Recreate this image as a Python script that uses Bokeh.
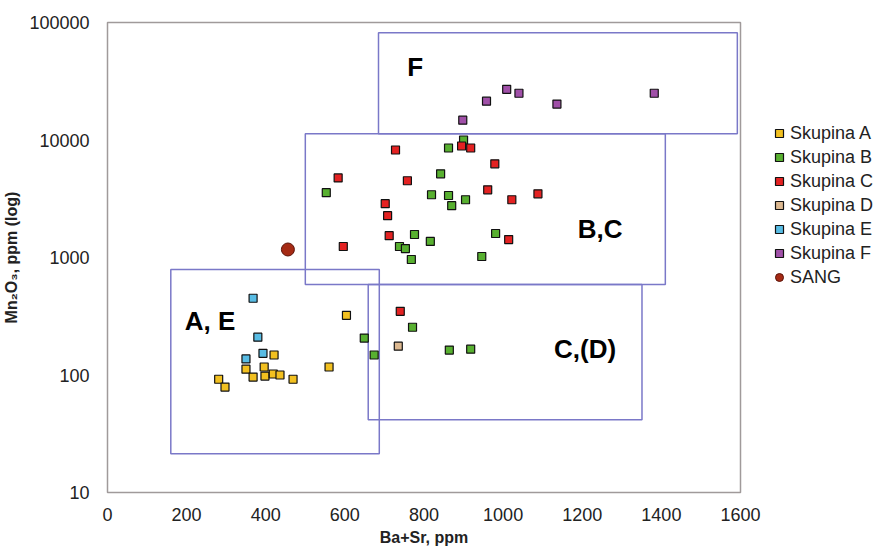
from bokeh.plotting import figure
from bokeh.models import (FixedTicker, NumeralTickFormatter, Legend, LegendItem, Range1d)
from bokeh.embed import file_html
from bokeh.resources import INLINE

# ---- data ----
a_x = [281, 297, 350, 368, 396, 398, 419, 421, 436, 469, 560, 604]
a_y = [92, 79, 112, 96, 117, 98, 102, 148, 100, 92, 117, 322]

b_x = [553, 649, 674, 738, 753, 768, 771, 776, 816, 819, 842, 862, 862, 864, 870, 900, 905, 918, 946, 981]
b_y = [3560, 206, 148, 1240, 1190, 962, 255, 1570, 1370, 3420, 5150, 8550, 3370, 163, 2760, 10000, 3100, 166, 1020, 1600]

c_x = [583, 596, 702, 708, 712, 728, 740, 758, 895, 918, 961, 979, 1014, 1022, 1088]
c_y = [4760, 1240, 2870, 2270, 1535, 8220, 348, 4500, 8890, 8550, 3770, 6270, 1420, 3100, 3480]

d_x = [735]
d_y = [176]

e_x = [350, 368, 380, 393]
e_y = [137, 450, 210, 153]

f_x = [898, 958, 1009, 1040, 1136, 1382]
f_y = [14750, 21400, 27000, 25000, 20200, 25000]

sang_x = [456]
sang_y = [1170]

# field boxes: left, right, bottom, top
box_names = ["F", "B,C", "A, E", "C,(D)"]
box_left = [685, 500, 160, 659]
box_right = [1592, 1410, 687, 1351]
box_bottom = [11300, 590, 21.4, 41.6]
box_top = [82000, 11300, 790, 590]
label_x = [778, 1245, 259, 1207]
label_y = [41600, 1760, 287, 166]

x_ticks = [0, 200, 400, 600, 800, 1000, 1200, 1400, 1600]
y_ticks = [10, 100, 1000, 10000, 100000]

p = figure(frame_width=633, frame_height=470, y_axis_type="log",
           x_range=Range1d(0, 1600), y_range=Range1d(10, 100000),
           output_backend="svg", toolbar_location=None,
           min_border_left=106, min_border_right=0, min_border_top=22, min_border_bottom=58)

p.background_fill_color = "white"
p.border_fill_color = "white"
p.outline_line_color = "#a09a9a"
p.outline_line_width = 1.5
p.grid.visible = False

for ax in (p.xaxis[0], p.yaxis[0]):
    ax.axis_line_color = "#a09a9a"
    ax.major_tick_line_color = None
    ax.minor_tick_line_color = None
    ax.major_label_text_font = "Liberation Sans"
    ax.major_label_text_font_size = "18px"
    ax.major_label_text_color = "#222222"
    ax.axis_label_text_font = "Liberation Sans"
    ax.axis_label_text_font_size = "16px"
    ax.axis_label_text_font_style = "bold"
    ax.axis_label_text_color = "#222222"

p.xaxis.ticker = FixedTicker(ticks=x_ticks)
p.yaxis.ticker = FixedTicker(ticks=y_ticks)
p.yaxis.formatter = NumeralTickFormatter(format="0")
p.xaxis.major_label_standoff = 9
p.yaxis.major_label_standoff = 12
p.xaxis.axis_label = "Ba+Sr, ppm"
p.yaxis.axis_label = "Mn\u2082O\u2083, ppm (log)"
p.xaxis.axis_label_standoff = 5
p.yaxis.axis_label_standoff = 6

# boxes
p.quad(left=box_left, right=box_right, bottom=box_bottom, top=box_top,
       fill_color=None, line_color="#7a78c8", line_width=1.5)
p.text(x=label_x, y=label_y, text=box_names, text_font_size="26px",
       text_font_style="bold", text_align="center", text_baseline="middle",
       text_color="black")

sq = dict(marker="square", size=8, line_color="#111111", line_width=1.2)
ra = p.scatter(a_x, a_y, fill_color="#f2c020", **sq)
rb = p.scatter(b_x, b_y, fill_color="#58b030", **sq)
rc = p.scatter(c_x, c_y, fill_color="#e42222", **sq)
rd = p.scatter(d_x, d_y, fill_color="#dcb890", **sq)
re = p.scatter(e_x, e_y, fill_color="#58bce4", **sq)
rf = p.scatter(f_x, f_y, fill_color="#a050a8", **sq)
rs = p.scatter(sang_x, sang_y, marker="circle", size=13, fill_color="#a52a14",
               line_color="#5a1208", line_width=1)

legend = Legend(items=[
    LegendItem(label="Skupina A", renderers=[ra]),
    LegendItem(label="Skupina B", renderers=[rb]),
    LegendItem(label="Skupina C", renderers=[rc]),
    LegendItem(label="Skupina D", renderers=[rd]),
    LegendItem(label="Skupina E", renderers=[re]),
    LegendItem(label="Skupina F", renderers=[rf]),
    LegendItem(label="SANG", renderers=[rs]),
], location=(29, 203))
legend.label_text_font = "Liberation Sans"
legend.label_text_font_size = "18px"
legend.label_text_color = "#222222"
legend.glyph_width = 20
legend.glyph_height = 24
legend.spacing = 0
legend.label_standoff = 1
legend.label_height = 20
legend.padding = 4
legend.margin = 14
legend.border_line_color = None
legend.background_fill_alpha = 0
p.add_layout(legend, "right")

open("out.html", "w").write(file_html(p, INLINE))
